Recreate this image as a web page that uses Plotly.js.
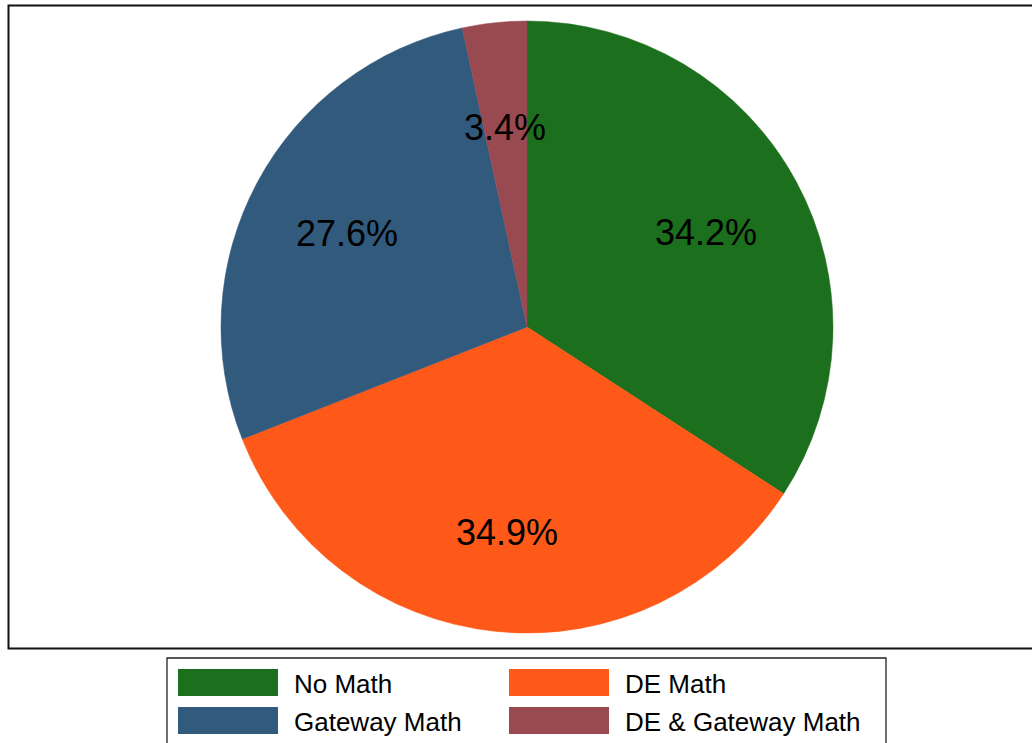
<!DOCTYPE html>
<html>
<head>
<meta charset="utf-8">
<script src="https://cdn.plot.ly/plotly-3.0.1.min.js"></script>
<style>html,body{margin:0;padding:0;background:#fff;}#chart{width:1032px;height:743px;}</style>
</head>
<body>
<div id="chart"></div>
<script>
var categories = ['No Math', 'DE Math', 'Gateway Math', 'DE & Gateway Math'];
var shares = [34.2, 34.9, 27.6, 3.4];
var sliceColors = ['#1c6f1c', '#ff5919', '#325a7d', '#984a50'];

var W = 1032, H = 743;
var FONT = 'Liberation Sans, Arial, Helvetica, sans-serif';
// pie domain in pixels
var px0 = 221, px1 = 833, py0 = 21, py1 = 633;
var dom = {x: [px0 / W, px1 / W], y: [1 - py1 / H, 1 - py0 / H]};

var traces = [
  {
    type: 'pie',
    labels: categories,
    values: shares,
    sort: false,
    direction: 'clockwise',
    rotation: 0,
    marker: {colors: sliceColors, line: {color: sliceColors, width: 0.5}},
    textinfo: 'none',
    hoverinfo: 'label+percent',
    domain: dom,
    showlegend: false
  }
];

var shapes = [
  {type: 'rect', xref: 'paper', yref: 'paper', x0: 8.5 / W, x1: 1034 / W, y0: 1 - 648.5 / H, y1: 1 - 5.5 / H,
   line: {color: '#111', width: 2}, fillcolor: 'rgba(0,0,0,0)'},
  {type: 'rect', xref: 'paper', yref: 'paper', x0: 167 / W, x1: 886 / W, y0: -0.05, y1: 1 - 658 / H,
   line: {color: '#222', width: 1.3}, fillcolor: 'rgba(0,0,0,0)'}
];
var annotations = [];

// slice labels along each slice's mid-angle (positions derived from data)
var total = shares.reduce(function (a, b) { return a + b; }, 0);
var cum = 0;
shares.forEach(function (v) {
  var mid = (cum + v / 2) / total * 2 * Math.PI;
  cum += v;
  annotations.push({xref: 'x', yref: 'y', x: (2 / 3) * Math.sin(mid), y: (2 / 3) * Math.cos(mid),
    xanchor: 'center', yanchor: 'middle', showarrow: false, text: v.toFixed(1) + '%', yshift: -3,
    font: {family: FONT, size: 36, color: '#000'}});
});

// custom legend: 2 columns, wide swatches
categories.forEach(function (c, i) {
  var col = i % 2, row = Math.floor(i / 2);
  var sx = 178 + col * 331, sy = 669 + row * 38;
  shapes.push({type: 'rect', xref: 'paper', yref: 'paper',
    x0: sx / W, x1: (sx + 100) / W, y0: 1 - (sy + 27) / H, y1: 1 - sy / H,
    line: {width: 0}, fillcolor: sliceColors[i]});
  annotations.push({xref: 'paper', yref: 'paper', x: (sx + 114) / W, y: 1 - (sy + 15) / H,
    xanchor: 'left', yanchor: 'middle', showarrow: false, text: c,
    font: {family: FONT, size: 26, color: '#000'}});
});

var layout = {
  width: W, height: H,
  margin: {l: 0, r: 0, t: 0, b: 0},
  paper_bgcolor: '#fff', plot_bgcolor: 'rgba(0,0,0,0)',
  showlegend: false,
  xaxis: {domain: dom.x, range: [-1, 1], visible: false, fixedrange: true},
  yaxis: {domain: dom.y, range: [-1, 1], visible: false, fixedrange: true},
  shapes: shapes,
  annotations: annotations
};

Plotly.newPlot('chart', traces, layout, {displayModeBar: false, staticPlot: true});
</script>
</body>
</html>
